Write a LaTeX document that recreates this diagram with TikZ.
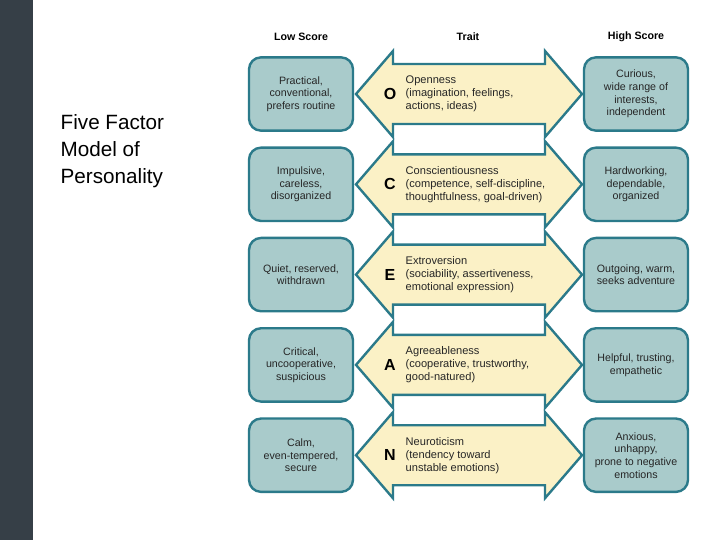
\documentclass[tikz,border=0pt]{standalone}
\usepackage{fontspec}
\setmainfont{Liberation Sans}
\begin{document}
\begin{tikzpicture}[x=0.75pt,y=-0.75pt,
  box/.style={draw=boxline,line width=1.8pt,fill=boxfill,rounded corners=9pt,minimum width=78pt,minimum height=55pt,align=center,font=\fontsize{8}{9.5}\selectfont,text=black!85},
  arr/.style={draw=boxline,line width=1.8pt,fill=arrfill,line join=miter},
  hdr/.style={font=\bfseries\fontsize{8}{9.5}\selectfont},
  lett/.style={font=\bfseries\fontsize{12}{12}\selectfont},
  trait/.style={anchor=west,align=left,font=\fontsize{8.3}{9.8}\selectfont,text=black!85}]
\definecolor{boxfill}{HTML}{A9CBCB}
\definecolor{boxline}{HTML}{2B7A8A}
\definecolor{arrfill}{HTML}{FBF1C6}
\definecolor{slate}{HTML}{363F47}
\useasboundingbox (0,0) rectangle (720,540);
\fill[white] (0,0) rectangle (720,540);
\fill[slate] (0,0) rectangle (33,540);
\node[anchor=north west,align=left,font=\fontsize{15.5}{20}\selectfont] (title) at (56,110) {Five Factor\\Model of\\Personality};
\node[hdr] (lo) at (301,37) {Low Score};
\node[hdr] (tr) at (468,37) {Trait};
\node[hdr] (hi) at (636,37) {High Score};
\foreach \i/\L/\T/\R/\H in {
 0/O/{Openness\\(imagination, feelings,\\actions, ideas)}/{Practical,\\conventional,\\prefers routine}/{Curious,\\wide range of\\interests,\\independent},
 1/C/{Conscientiousness\\(competence, self-discipline,\\thoughtfulness, goal-driven)}/{Impulsive,\\careless,\\disorganized}/{Hardworking,\\dependable,\\organized},
 2/E/{Extroversion\\(sociability, assertiveness,\\emotional expression)}/{Quiet, reserved,\\withdrawn}/{Outgoing, warm,\\seeks adventure},
 3/A/{Agreeableness\\(cooperative, trustworthy,\\good-natured)}/{Critical,\\uncooperative,\\suspicious}/{Helpful, trusting,\\empathetic},
 4/N/{Neuroticism\\(tendency toward\\unstable emotions)}/{Calm,\\even-tempered,\\secure}/{Anxious,\\unhappy,\\prone to negative\\emotions}} {
  \pgfmathsetmacro{\c}{94+90.3*\i}
  \draw[arr] (356,\c) -- (393,\c-43) -- (393,\c-30) -- (545,\c-30) -- (545,\c-43) -- (582,\c) -- (545,\c+43) -- (545,\c+30) -- (393,\c+30) -- (393,\c+43) -- cycle;
  \node[box] (l\i) at (301,\c) {\R};
  \node[box] (r\i) at (636,\c) {\H};
  \node[lett] (k\i) at (390,\c) {\L};
  \node[trait] (t\i) at (401,\c) {\T};
}
\end{tikzpicture}
\end{document}
